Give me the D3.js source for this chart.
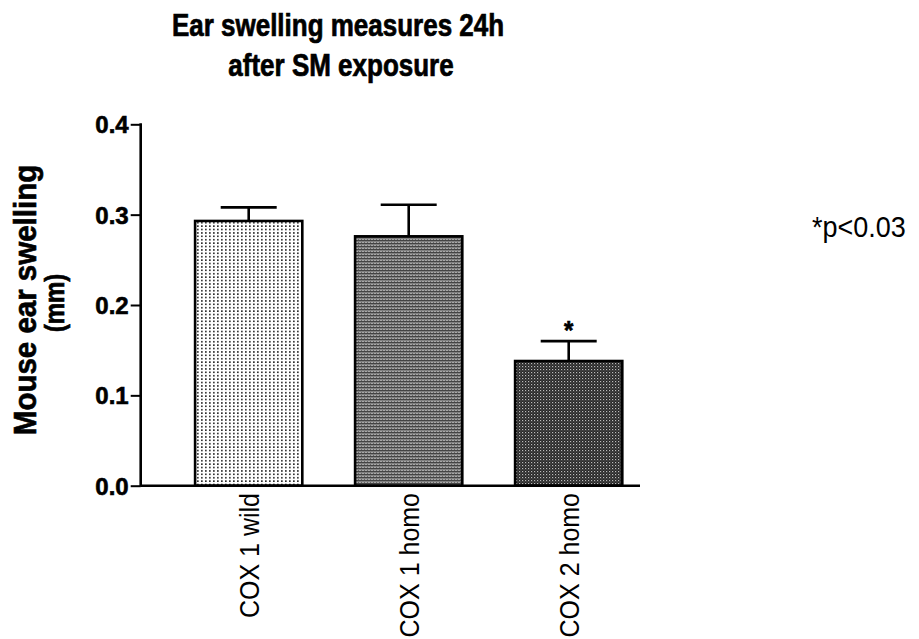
<!DOCTYPE html>
<html><head><meta charset="utf-8">
<script src="https://cdn.jsdelivr.net/npm/d3@7"></script>
<style>body{margin:0;background:#fff;} text{font-family:"Liberation Sans",Arial,sans-serif;} .heavy{stroke:#000;stroke-width:0.6px;}</style>
</head><body>
<svg id="chart" width="919" height="639"></svg>
<script>
const categories = ["COX 1 wild", "COX 1 homo", "COX 2 homo"];
const means = [0.293, 0.276, 0.138];
const errors = [0.015, 0.035, 0.022];
const significant = [false, false, true];
const yTicks = [0.0, 0.1, 0.2, 0.3, 0.4];
const patterns = ["pat-dots", "pat-lines", "pat-check"];

const svg = d3.select("#chart");
const defs = svg.append("defs");

// dotted light pattern
const p1 = defs.append("pattern").attr("id","pat-dots").attr("patternUnits","userSpaceOnUse").attr("width",4).attr("height",3.4);
p1.append("rect").attr("width",4).attr("height",3.4).attr("fill","#fff");
p1.append("rect").attr("x",1).attr("y",1).attr("width",1.7).attr("height",1.5).attr("fill","#222");
// horizontal line gray pattern
const p2 = defs.append("pattern").attr("id","pat-lines").attr("patternUnits","userSpaceOnUse").attr("width",3).attr("height",3);
p2.append("rect").attr("width",3).attr("height",3).attr("fill","#a8a8a8");
p2.append("rect").attr("y",0).attr("width",3).attr("height",1.4).attr("fill","#444");
p2.append("rect").attr("x",1).attr("y",2).attr("width",1).attr("height",1).attr("fill","#666");
// dark checker pattern
const p3 = defs.append("pattern").attr("id","pat-check").attr("patternUnits","userSpaceOnUse").attr("width",3).attr("height",3);
p3.append("rect").attr("width",3).attr("height",3).attr("fill","#262626");
p3.append("rect").attr("x",0).attr("y",0).attr("width",1.2).attr("height",1.2).attr("fill","#bbb");
p3.append("rect").attr("x",1.5).attr("y",1.5).attr("width",1).attr("height",1).attr("fill","#777");

const y = d3.scaleLinear().domain([0, 0.4]).range([485.7, 124.3]);
const x = d3.scaleBand().domain(categories).range([168.7, 648.7]).paddingInner(0.33).paddingOuter(0.165);
const axisX0 = 140.7, axisX1 = 640;

// bars
svg.selectAll("rect.bar").data(categories).join("rect").attr("class","bar")
  .attr("x", d => x(d)).attr("width", x.bandwidth())
  .attr("y", (d,i) => y(means[i])).attr("height", (d,i) => y(0) - y(means[i]))
  .attr("fill", (d,i) => `url(#${patterns[i]})`)
  .attr("stroke","#000").attr("stroke-width",2.6);

// error bars
const capW = 56;
categories.forEach((c,i) => {
  const cx = x(c) + x.bandwidth()/2;
  svg.append("line").attr("x1",cx).attr("x2",cx).attr("y1",y(means[i])).attr("y2",y(means[i]+errors[i]))
    .attr("stroke","#000").attr("stroke-width",2.6);
  svg.append("line").attr("x1",cx-capW/2).attr("x2",cx+capW/2).attr("y1",y(means[i]+errors[i])).attr("y2",y(means[i]+errors[i]))
    .attr("stroke","#000").attr("stroke-width",2.6);
  if (significant[i]) {
    svg.append("text").attr("class","heavy").attr("transform",`translate(${cx},${y(means[i]+errors[i]) - 2}) scale(1,1.1)`).attr("text-anchor","middle")
      .attr("font-size",24).attr("font-weight","bold").text("*");
  }
});

// y axis
const yAxis = d3.axisLeft(y).tickValues(yTicks).tickFormat(d3.format(".1f")).tickSize(10).tickPadding(2);
const ga = svg.append("g").attr("transform",`translate(${axisX0},0)`).call(yAxis);
ga.select(".domain").remove();
ga.selectAll(".tick line").attr("stroke","#000").attr("stroke-width",2);
ga.selectAll(".tick text").attr("class","heavy").attr("font-size",24).attr("font-weight","bold").attr("fill","#000")
  .attr("font-family","'Liberation Sans',Arial,sans-serif").attr("dy","0.36em");
svg.append("line").attr("x1",axisX0).attr("x2",axisX0).attr("y1",y(0.4)-1).attr("y2",y(0)+1).attr("stroke","#000").attr("stroke-width",2.6);
svg.append("line").attr("x1",axisX0).attr("x2",axisX1).attr("y1",y(0)).attr("y2",y(0)).attr("stroke","#000").attr("stroke-width",2.6);

// x labels
categories.forEach(c => {
  const cx = x(c) + x.bandwidth()/2;
  svg.append("text").attr("transform",`translate(${cx},493) rotate(-90) scale(1,1.12)`)
    .attr("text-anchor","end").attr("dy","0.36em").attr("font-size",25).text(c);
});

// title
svg.append("text").attr("class","heavy").attr("transform","translate(338,36) scale(1,1.18)").attr("text-anchor","middle").attr("font-size",26).attr("font-weight","bold").text("Ear swelling measures 24h");
svg.append("text").attr("class","heavy").attr("transform","translate(341,76) scale(1,1.18)").attr("text-anchor","middle").attr("font-size",26).attr("font-weight","bold").text("after SM exposure");

// y title
svg.append("text").attr("class","heavy").attr("transform","translate(25,300) rotate(-90) scale(1,1.08)").attr("text-anchor","middle").attr("dy","0.36em")
  .attr("font-size",29.5).attr("font-weight","bold").text("Mouse ear swelling");
svg.append("text").attr("class","heavy").attr("transform","translate(54,303) rotate(-90) scale(1,1.12)").attr("text-anchor","middle").attr("dy","0.36em")
  .attr("font-size",24).attr("font-weight","bold").text("(mm)");

// note
svg.append("text").attr("transform","translate(812,237) scale(1,1.1)").attr("font-size",27).text("*p<0.03");
</script>
</body></html>
